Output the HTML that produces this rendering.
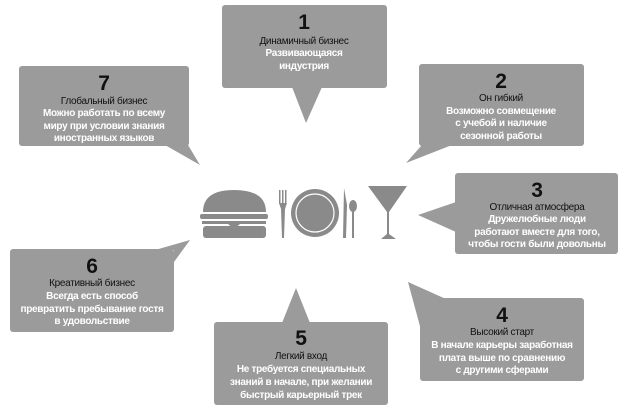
<!DOCTYPE html>
<html><head><meta charset="utf-8"><style>
html,body{margin:0;padding:0;background:#fff;width:626px;height:413px;overflow:hidden}
text{font-family:"Liberation Sans",sans-serif;text-anchor:middle;font-size:10px;letter-spacing:-0.3px}
.n{font-size:21px;font-weight:bold;fill:#111}
.t{fill:#111}
.b{fill:#fff;font-weight:bold}
</style></head><body>
<svg width="626" height="413" viewBox="0 0 626 413" xmlns="http://www.w3.org/2000/svg">
<g fill="#9b9b9b">
<rect x="222" y="5" width="165" height="83" rx="3"/><polygon points="292,87 322,87 306,123"/>
<rect x="19" y="66" width="170" height="80" rx="3"/><polygon points="165,145 188,145 200,165"/>
<rect x="419" y="64" width="165" height="82" rx="3"/><polygon points="422,145 452,145 406,163"/>
<rect x="455" y="173" width="163" height="81" rx="3"/><polygon points="456,202 456,232 418,215"/>
<rect x="10" y="249" width="164" height="83" rx="3"/><polygon points="155,250 174,250 174,262 190,240"/>
<rect x="214" y="322" width="174" height="83" rx="3"/><polygon points="282,323 310,323 296,288"/>
<rect x="420" y="298" width="164" height="83" rx="3"/><polygon points="421,299 421,330 408,282 446,299"/>
</g>
<!-- icons -->
<g fill="#8a8a8a">
<path d="M203,212 Q203,190 234,190 Q266,190 266,212 Z"/>
<rect x="200" y="214" width="68" height="5" rx="2"/>
<path d="M202,221 L266,221 L266,224 L240,224 L234,229 L228,224 L202,224 Z"/>
<rect x="203" y="226" width="63" height="12" rx="3"/>
<rect x="279" y="190" width="1.5" height="14"/><rect x="282" y="190" width="1.5" height="14"/><rect x="285" y="190" width="1.5" height="14"/>
<path d="M279,203 L287,203 L285,209 L284,238 L282,238 L281,209 Z"/>
<circle cx="315" cy="213" r="24"/>
<path d="M344,188 L347,205 L346,238 L343,238 Z"/>
<ellipse cx="353" cy="206" rx="4" ry="6"/><rect x="352" y="210" width="2" height="28"/>
<path d="M368,186 L407,186 L389,212 L389,234 L396,239 L381,239 L387,234 L387,212 Z"/>
</g>
<circle cx="315" cy="213" r="19" fill="none" stroke="#fff" stroke-width="1.2"/>
<!-- 1 -->
<text class="n" x="304" y="29">1</text>
<text class="t" x="304" y="44">Динамичный бизнес</text>
<text class="b" x="304" y="56">Развивающаяся</text>
<text class="b" x="304" y="69">индустрия</text>
<!-- 7 -->
<text class="n" x="104" y="90">7</text>
<text class="t" x="104" y="104">Глобальный бизнес</text>
<text class="b" x="104" y="116">Можно работать по всему</text>
<text class="b" x="104" y="129">миру при условии знания</text>
<text class="b" x="104" y="141">иностранных языков</text>
<!-- 2 -->
<text class="n" x="501" y="88">2</text>
<text class="t" x="501" y="101">Он гибкий</text>
<text class="b" x="501" y="114">Возможно совмещение</text>
<text class="b" x="501" y="126">с учебой и наличие</text>
<text class="b" x="501" y="139">сезонной работы</text>
<!-- 3 -->
<text class="n" x="537" y="197">3</text>
<text class="t" x="537" y="210">Отличная атмосфера</text>
<text class="b" x="537" y="222">Дружелюбные люди</text>
<text class="b" x="537" y="235">работают вместе для того,</text>
<text class="b" x="537" y="247">чтобы гости были довольны</text>
<!-- 6 -->
<text class="n" x="92" y="273">6</text>
<text class="t" x="92" y="286">Креативный бизнес</text>
<text class="b" x="92" y="299">Всегда есть способ</text>
<text class="b" x="92" y="312">превратить пребывание гостя</text>
<text class="b" x="92" y="324">в удовольствие</text>
<!-- 5 -->
<text class="n" x="301" y="345">5</text>
<text class="t" x="301" y="359">Легкий вход</text>
<text class="b" x="301" y="372">Не требуется специальных</text>
<text class="b" x="301" y="385">знаний в начале, при желании</text>
<text class="b" x="301" y="398">быстрый карьерный трек</text>
<!-- 4 -->
<text class="n" x="502" y="322">4</text>
<text class="t" x="502" y="335">Высокий старт</text>
<text class="b" x="502" y="348">В начале карьеры заработная</text>
<text class="b" x="502" y="361">плата выше по сравнению</text>
<text class="b" x="502" y="373">с другими сферами</text>
</svg>
</body></html>
